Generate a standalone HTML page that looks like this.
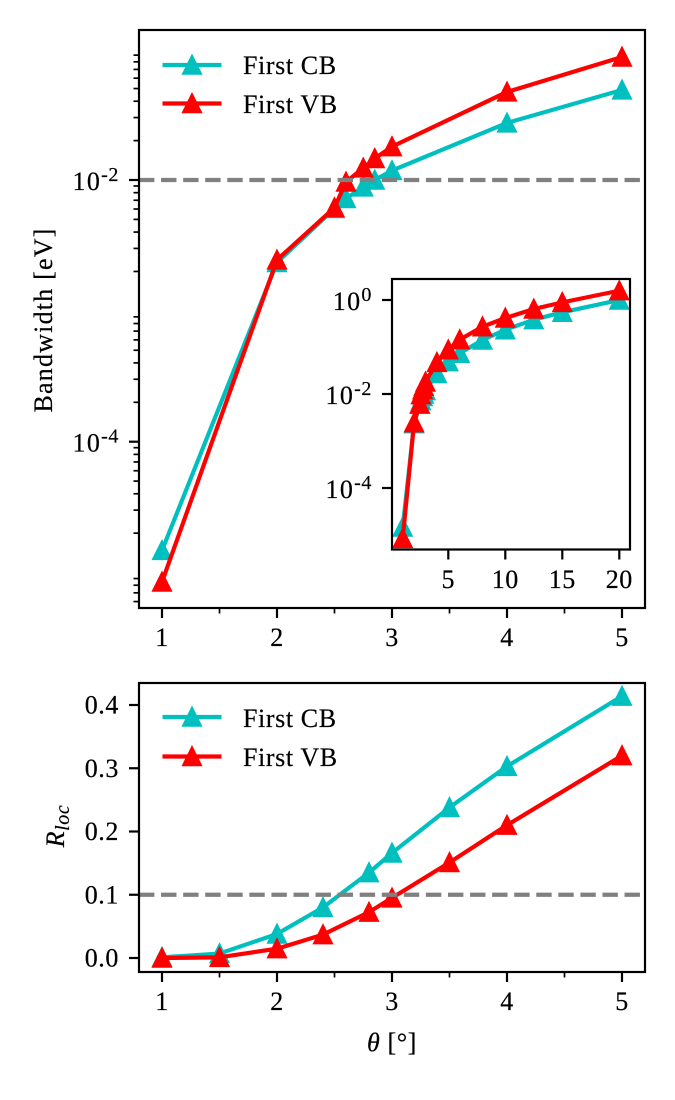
<!DOCTYPE html>
<html lang="en">
<head>
<meta charset="utf-8">
<title>Bandwidth and localization vs twist angle</title>
<style>
html,body{margin:0;padding:0;background:#fff;width:675px;height:1100px;overflow:hidden}
svg{display:block}
text{font-family:"Liberation Serif",serif;font-size:26px;fill:#000;letter-spacing:.6px;stroke:#000;stroke-width:.2px}
</style>
</head>
<body>
<svg id="fig" xmlns="http://www.w3.org/2000/svg" width="675" height="1100" viewBox="0 0 675 1100">
  <defs>
    <clipPath id="clip-main"><rect x="139" y="30" width="506" height="578"/></clipPath>
    <clipPath id="clip-inset"><rect x="392" y="279" width="238" height="270"/></clipPath>
    <clipPath id="clip-loc"><rect x="139" y="683" width="506" height="289"/></clipPath>
  </defs>
  <rect x="0" y="0" width="675" height="1100" fill="#fff"/>
  <g id="main-plot"></g>
  <g id="inset-plot"></g>
  <g id="loc-plot"></g>
  <text transform="translate(52 320) rotate(-90)" text-anchor="middle" style="letter-spacing:1.2px">Bandwidth [eV]</text>
  <text transform="translate(64 826) rotate(-90)" text-anchor="middle" font-style="italic">R<tspan dy="5" style="font-size:20px">loc</tspan></text>
  <text x="392" y="1051" text-anchor="middle"><tspan font-style="italic">θ</tspan> [°]</text>
  <g>
    <text x="243" y="74">First CB</text>
    <text x="243" y="113">First VB</text>
  </g>
  <g>
    <text x="243" y="727">First CB</text>
    <text x="243" y="766">First VB</text>
  </g>
</svg>
<script>
// Bandwidth data (eV)
const thetaMain = [1, 2, 2.5, 2.6, 2.75, 2.85, 3, 4, 5];
const bandwidthCB = [1.475e-5, 2.34e-3, 6.05e-3, 7.22e-3, 8.85e-3, 1.0e-2, 1.18e-2, 2.73e-2, 4.88e-2];
const bandwidthVB = [8.47e-6, 2.45e-3, 6.15e-3, 9.66e-3, 1.236e-2, 1.46e-2, 1.80e-2, 4.71e-2, 8.71e-2];
// Additional angles shown only in the inset
const thetaHigh = [6, 8, 10, 12.5, 15, 20];
const bandwidthCBHigh = [0.0733, 0.141, 0.233, 0.381, 0.547, 1.0];
const bandwidthVBHigh = [0.143, 0.27, 0.414, 0.644, 0.89, 1.58];
// Localization data
const thetaLoc = [1, 1.5, 2, 2.4, 2.8, 3, 3.5, 4, 5];
const locCB = [0.001, 0.007, 0.038, 0.08, 0.135, 0.166, 0.238, 0.303, 0.414];
const locVB = [0, 0.001, 0.0147, 0.037, 0.0725, 0.095, 0.151, 0.21, 0.32];
// Ticks and reference levels
const mainXTicks = [1, 2, 3, 4, 5];
const mainXMinorTicks = [1.5, 2.5, 3.5, 4.5];
const mainYTicks = [1e-4, 1e-2];
const minorSubs = [2, 3, 4, 5, 6, 7, 8, 9];
const minorDecades = [-6, -5, -4, -3, -2, -1];
const insetXTicks = [5, 10, 15, 20];
const insetYTicks = [1, 1e-2, 1e-4];
const locYTicks = [0, 0.1, 0.2, 0.3, 0.4];
const locYTickLabels = ['0.0', '0.1', '0.2', '0.3', '0.4'];
const bandwidthThreshold = 1e-2;
const locThreshold = 0.1;

const NS = 'http://www.w3.org/2000/svg';
const CYAN = '#00bfbf', RED = '#ff0000';

function mk(parent, tag, name, attrs, txt) {
  const el = document.createElementNS(NS, tag);
  
  
  for (const k in attrs) el.setAttribute(k, attrs[k]);
  if (txt !== undefined) el.textContent = txt;
  parent.appendChild(el);
  return el;
}

// Axis functions
const xMain = v => 162 + (v - 1) * 115;
const yMain = v => 180 - (Math.log10(v) + 2) * 130.85;
const xInset = v => 402.7 + (v - 1) * 11.4;
const yInset = v => 300 - Math.log10(v) * 47;
const xLoc = xMain;
const yLoc = v => 958 - v * 632.5;

function drawSeries(g, name, xs, ys, fx, fy, color, clip) {
  const grp = mk(g, 'g', name + '-series', { 'clip-path': 'url(#' + clip + ')' });
  const pts = xs.map((x, i) => [fx(x), fy(ys[i])]);
  mk(grp, 'polyline', name + '-line', {
    points: pts.map(p => p[0].toFixed(2) + ',' + p[1].toFixed(2)).join(' '),
    fill: 'none', stroke: color, 'stroke-width': 4.17, 'stroke-linejoin': 'round', 'stroke-linecap': 'square'
  });
  pts.forEach(p => marker(grp, name + '-marker', p[0], p[1], color));
}
function marker(g, name, cx, cy, color) {
  const s = 8.33;
  mk(g, 'polygon', name, {
    points: [[cx, cy - s], [cx - s, cy + s], [cx + s, cy + s]].map(p => p[0].toFixed(2) + ',' + p[1].toFixed(2)).join(' '),
    fill: color, stroke: color, 'stroke-width': 2.78, 'stroke-linejoin': 'miter'
  });
}
function hDash(g, name, y, x0, x1) {
  mk(g, 'line', name, {
    x1: x0, x2: x1, y1: y, y2: y, stroke: '#808080', 'stroke-width': 4.17, 'stroke-dasharray': '15.4 6.67'
  });
}
function frame(g, name, l, t, r, b) {
  mk(g, 'rect', name, { x: l, y: t, width: r - l, height: b - t, fill: 'none', stroke: '#000', 'stroke-width': 2.2 });
}
function xTick(g, name, x, b, len, w) {
  mk(g, 'line', name, { x1: x, x2: x, y1: b, y2: b + len, stroke: '#000', 'stroke-width': w });
}
function yTick(g, name, y, l, len, w) {
  mk(g, 'line', name, { x1: l - len, x2: l, y1: y, y2: y, stroke: '#000', 'stroke-width': w });
}
function powerLabel(g, name, x, y, exp) {
  const t = mk(g, 'text', name, { x: x, y: y, 'text-anchor': 'end' });
  const a = document.createElementNS(NS, 'tspan');
  a.setAttribute('style', 'letter-spacing:1.3px');
  a.textContent = '10';
  t.appendChild(a);
  const b = document.createElementNS(NS, 'tspan');
  b.setAttribute('dy', '-9');
  b.setAttribute('style', 'font-size:20px');
  b.textContent = String(exp);
  t.appendChild(b);
}
function legendEntry(g, name, y, color) {
  mk(g, 'line', name + '-line', { x1: 162.5, x2: 221.5, y1: y, y2: y, stroke: color, 'stroke-width': 4.17 });
  marker(g, name + '-marker', 192, y, color);
}

// Main bandwidth panel
(function () {
  const g = document.getElementById('main-plot');
  mk(g, 'rect', 'bandwidth-plot-area', { x: 139, y: 30, width: 506, height: 578, fill: '#fff' });
  drawSeries(g, 'first-cb', thetaMain, bandwidthCB, xMain, yMain, CYAN, 'clip-main');
  drawSeries(g, 'first-vb', thetaMain, bandwidthVB, xMain, yMain, RED, 'clip-main');
  hDash(g, 'bandwidth-threshold-line', yMain(bandwidthThreshold), 139, 645);
  frame(g, 'bandwidth-plot-frame', 139, 30, 645, 608);
  mainXTicks.forEach(v => {
    xTick(g, 'x-tick', xMain(v), 608, 10, 2.2);
    mk(g, 'text', 'x-tick-label', { x: xMain(v), y: 646, 'text-anchor': 'middle' }, String(v));
  });
  mainXMinorTicks.forEach(v => xTick(g, 'x-minor-tick', xMain(v), 608, 5.5, 1.7));
  mainYTicks.forEach(v => {
    yTick(g, 'y-tick', yMain(v), 139, 10, 2.2);
    powerLabel(g, 'y-tick-label', 119, yMain(v) + 10, Math.round(Math.log10(v)));
  });
  minorDecades.forEach(d => minorSubs.forEach(s => {
    const y = yMain(s * Math.pow(10, d));
    if (y > 30 && y < 608) yTick(g, 'y-minor-tick', y, 139, 5.5, 1.7);
  }));
  const lg = mk(g, 'g', 'bandwidth-legend-handles', {});
  legendEntry(lg, 'legend-first-cb', 65, CYAN);
  legendEntry(lg, 'legend-first-vb', 103.5, RED);
})();

// Inset panel
(function () {
  const g = document.getElementById('inset-plot');
  mk(g, 'rect', 'inset-plot-area', { x: 392, y: 279, width: 238, height: 270, fill: '#fff' });
  const xs = thetaMain.concat(thetaHigh);
  drawSeries(g, 'inset-first-cb', xs, bandwidthCB.concat(bandwidthCBHigh), xInset, yInset, CYAN, 'clip-inset');
  drawSeries(g, 'inset-first-vb', xs, bandwidthVB.concat(bandwidthVBHigh), xInset, yInset, RED, 'clip-inset');
  frame(g, 'inset-plot-frame', 392, 279, 630, 549.5);
  insetXTicks.forEach(v => {
    xTick(g, 'inset-x-tick', xInset(v), 549.5, 10, 2.2);
    mk(g, 'text', 'inset-x-tick-label', { x: xInset(v), y: 588, 'text-anchor': 'middle' }, String(v));
  });
  insetYTicks.forEach(v => {
    yTick(g, 'inset-y-tick', yInset(v), 392, 10, 2.2);
    powerLabel(g, 'inset-y-tick-label', 372, yInset(v) + 10, Math.round(Math.log10(v)));
  });
})();

// Localization panel
(function () {
  const g = document.getElementById('loc-plot');
  mk(g, 'rect', 'localization-plot-area', { x: 139, y: 683, width: 506, height: 289, fill: '#fff' });
  drawSeries(g, 'loc-first-cb', thetaLoc, locCB, xLoc, yLoc, CYAN, 'clip-loc');
  drawSeries(g, 'loc-first-vb', thetaLoc, locVB, xLoc, yLoc, RED, 'clip-loc');
  hDash(g, 'localization-threshold-line', yLoc(locThreshold), 139, 645);
  frame(g, 'localization-plot-frame', 139, 683, 645, 972);
  mainXTicks.forEach(v => {
    xTick(g, 'loc-x-tick', xLoc(v), 972, 10, 2.2);
    mk(g, 'text', 'loc-x-tick-label', { x: xLoc(v), y: 1010, 'text-anchor': 'middle' }, String(v));
  });
  mainXMinorTicks.forEach(v => xTick(g, 'loc-x-minor-tick', xLoc(v), 972, 5.5, 1.7));
  locYTicks.forEach((v, i) => {
    yTick(g, 'loc-y-tick', yLoc(v), 139, 10, 2.2);
    mk(g, 'text', 'loc-y-tick-label', { x: 119, y: yLoc(v) + 8.5, 'text-anchor': 'end' }, locYTickLabels[i]);
  });
  const lg = mk(g, 'g', 'localization-legend-handles', {});
  legendEntry(lg, 'legend-first-cb-lower', 717, CYAN);
  legendEntry(lg, 'legend-first-vb-lower', 756.5, RED);
})();
</script>
</body>
</html>
